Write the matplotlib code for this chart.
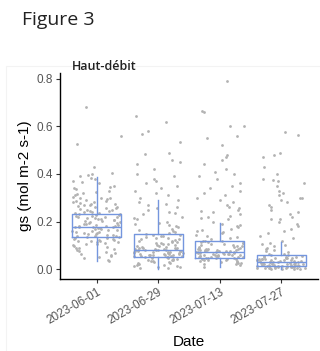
import numpy as np
import matplotlib
matplotlib.use("Agg")
import matplotlib.pyplot as plt
from matplotlib.patches import Rectangle

# ---------------- data ----------------
dates = ["2023-06-01", "2023-06-29", "2023-07-13", "2023-07-27"]

# box statistics
q1 = [0.135, 0.050, 0.045, 0.012]
med = [0.177, 0.080, 0.072, 0.030]
q3 = [0.232, 0.147, 0.118, 0.060]
whislo = [0.034, 0.002, 0.010, 0.000]
whishi = [0.387, 0.290, 0.194, 0.113]

g1 = [0.68, 0.56, 0.525, 0.43, 0.405, 0.40, 0.395, 0.39, 0.385, 0.38,
      0.37, 0.365, 0.36, 0.35, 0.345, 0.34, 0.335, 0.33, 0.325, 0.32, 0.315, 0.31,
      0.305, 0.30, 0.30, 0.298, 0.295, 0.29, 0.288, 0.285, 0.28, 0.28, 0.278, 0.275,
      0.272, 0.27, 0.268, 0.265, 0.262, 0.26, 0.258, 0.255, 0.252, 0.25, 0.248, 0.245,
      0.243, 0.24, 0.238, 0.236, 0.234, 0.232, 0.23, 0.229, 0.227, 0.225, 0.223, 0.221,
      0.219, 0.217, 0.215, 0.213, 0.211, 0.209, 0.207, 0.205, 0.203, 0.201, 0.199,
      0.197, 0.195, 0.193, 0.191, 0.189, 0.187, 0.185, 0.183, 0.181, 0.179, 0.178,
      0.177, 0.176, 0.175, 0.173, 0.171, 0.169, 0.167, 0.165, 0.163, 0.161, 0.159,
      0.157, 0.155, 0.153, 0.151, 0.149, 0.147, 0.145, 0.143, 0.141, 0.139, 0.137,
      0.135, 0.134, 0.132, 0.13, 0.128, 0.126, 0.124, 0.122, 0.12, 0.118, 0.116, 0.114,
      0.112, 0.11, 0.107, 0.104, 0.10, 0.097, 0.094, 0.09, 0.087, 0.083, 0.08, 0.076,
      0.072, 0.068, 0.064, 0.06, 0.055, 0.05, 0.045, 0.04, 0.035]

g2 = [0.645, 0.62, 0.58, 0.57, 0.535, 0.49, 0.485, 0.46, 0.45, 0.44, 0.42, 0.40,
      0.39, 0.38, 0.37, 0.36, 0.35, 0.34, 0.33, 0.32, 0.31, 0.30,
      0.29, 0.28, 0.275, 0.27, 0.26, 0.255, 0.25, 0.24, 0.235, 0.23, 0.22, 0.215,
      0.21, 0.20, 0.195, 0.19, 0.185, 0.18, 0.175, 0.17, 0.165, 0.16, 0.155, 0.15,
      0.147, 0.145, 0.142, 0.14, 0.137, 0.135, 0.132, 0.13, 0.127, 0.125, 0.122, 0.12,
      0.117, 0.115, 0.112, 0.11, 0.108, 0.106, 0.104, 0.102, 0.10, 0.098, 0.096, 0.094,
      0.092, 0.09, 0.089, 0.088, 0.087, 0.086, 0.085, 0.084, 0.083, 0.082, 0.081, 0.08,
      0.079, 0.078, 0.077, 0.076, 0.075, 0.074, 0.073, 0.072, 0.071, 0.07, 0.069, 0.068,
      0.067, 0.066, 0.065, 0.064, 0.063, 0.062, 0.061, 0.06, 0.059, 0.058, 0.057, 0.056,
      0.055, 0.054, 0.053, 0.052, 0.051, 0.05, 0.048, 0.046, 0.044, 0.042, 0.04, 0.038,
      0.036, 0.034, 0.032, 0.03, 0.028, 0.026, 0.024, 0.022, 0.02, 0.018, 0.016, 0.014,
      0.012, 0.01, 0.008, 0.006, 0.004]

g3 = [0.79, 0.665, 0.66, 0.60, 0.60, 0.56, 0.55, 0.52, 0.48, 0.47, 0.46, 0.44, 0.42,
      0.41, 0.40, 0.39, 0.38, 0.36, 0.35, 0.34, 0.33, 0.32, 0.31, 0.30, 0.29, 0.28,
      0.27, 0.26, 0.255, 0.25, 0.245, 0.24, 0.23, 0.225, 0.22, 0.215, 0.21, 0.20,
      0.19, 0.185, 0.18, 0.175, 0.17, 0.165, 0.16, 0.155, 0.15, 0.145, 0.14, 0.135,
      0.13, 0.125, 0.12, 0.118, 0.116, 0.114, 0.112, 0.11, 0.108, 0.106, 0.104, 0.102,
      0.10, 0.098, 0.096, 0.094, 0.092, 0.09, 0.088, 0.086, 0.085, 0.084, 0.083, 0.082,
      0.081, 0.08, 0.079, 0.078, 0.077, 0.076, 0.075, 0.074, 0.073, 0.072, 0.071, 0.07,
      0.069, 0.068, 0.067, 0.066, 0.065, 0.064, 0.063, 0.062, 0.061, 0.06, 0.059, 0.058,
      0.057, 0.056, 0.055, 0.054, 0.053, 0.052, 0.051, 0.05, 0.049, 0.048, 0.047, 0.046,
      0.045, 0.044, 0.043, 0.042, 0.04, 0.038, 0.036, 0.034, 0.032, 0.03, 0.028, 0.026,
      0.024, 0.022, 0.02, 0.015, 0.01]

g4 = [0.575, 0.565, 0.49, 0.48, 0.47, 0.43, 0.40, 0.38, 0.375, 0.37, 0.36, 0.35, 0.33,
      0.32, 0.31, 0.30, 0.30, 0.29, 0.28, 0.27, 0.26, 0.25, 0.24, 0.23, 0.22, 0.21, 0.21,
      0.20, 0.19, 0.18, 0.17, 0.16, 0.15, 0.14, 0.13, 0.12,
      0.11, 0.105, 0.10, 0.095, 0.09, 0.085, 0.08, 0.075, 0.07, 0.065, 0.062, 0.06,
      0.058, 0.056, 0.054, 0.052, 0.05, 0.049, 0.048, 0.047, 0.046, 0.045, 0.044, 0.043,
      0.042, 0.041, 0.04, 0.039, 0.038, 0.037, 0.036, 0.035, 0.034, 0.033, 0.032, 0.031,
      0.03, 0.03, 0.029, 0.028, 0.027, 0.026, 0.025, 0.024, 0.023, 0.022, 0.021, 0.02,
      0.02, 0.019, 0.018, 0.017, 0.016, 0.015, 0.015, 0.014, 0.013, 0.012, 0.012, 0.011,
      0.01, 0.01, 0.009, 0.008, 0.008, 0.007, 0.006, 0.006, 0.005, 0.005, 0.004, 0.004,
      0.003, 0.003, 0.002, 0.002, 0.001, 0.001]

groups = [g1, g2, g3, g4]
y_ticks = [0.0, 0.2, 0.4, 0.6, 0.8]
y_tick_labels = ["0.0", "0.2", "0.4", "0.6", "0.8"]

# ---------------- figure ----------------
W, H = 320, 351
fig = plt.figure(figsize=(W / 100, H / 100), dpi=100)
fig.patch.set_facecolor("white")

ax = fig.add_axes([60 / W, 1 - 279 / H, 258 / W, (279 - 73) / H])

point_color = "#b2b2b2"
box_color = "#7596de"
positions = np.arange(1, len(dates) + 1)


def jitter_frac(n, gi):
    # deterministic hash-based horizontal jitter (positions only)
    k = np.arange(n) + 1000 * (gi + 1)
    return (np.sin(k * 12.9898 + 78.233) * 43758.5453) % 1.0


for gi, (pos, vals) in enumerate(zip(positions, groups)):
    xs = pos + (jitter_frac(len(vals), gi) - 0.5) * 0.8
    ax.scatter(xs, vals, s=4, color=point_color, linewidths=0, zorder=2)

stats = []
for i in range(len(dates)):
    stats.append(dict(med=med[i], q1=q1[i], q3=q3[i],
                      whislo=whislo[i], whishi=whishi[i], fliers=[]))
ax.bxp(stats, positions=positions, widths=0.8, showfliers=False,
       showcaps=False, patch_artist=False,
       boxprops=dict(color=box_color, linewidth=1.0),
       medianprops=dict(color=box_color, linewidth=1.0),
       whiskerprops=dict(color=box_color, linewidth=1.0),
       manage_ticks=False, zorder=3)

ax.set_xlim(0.4, 4.6)
ax.set_ylim(-0.042, 0.825)

for s in ["top", "right"]:
    ax.spines[s].set_visible(False)
for s in ["left", "bottom"]:
    ax.spines[s].set_color("black")
    ax.spines[s].set_linewidth(1.0)

ax.set_yticks(y_ticks)
ax.set_yticklabels(y_tick_labels, fontsize=8.5, color="#555555", family="Liberation Sans")
ax.set_xticks(positions)
ax.set_xticklabels(dates, fontsize=8.5, color="#555555", family="Liberation Sans",
                   rotation=30, ha="right", rotation_mode="anchor")
ax.tick_params(axis="both", length=3, width=0.8, color="#333333", pad=2)

ax.set_ylabel("gs (mol m-2 s-1)", fontsize=11, family="Liberation Sans", labelpad=3)
ax.set_xlabel("Date", fontsize=11, family="Liberation Sans", labelpad=6)

# faint frame around the panel
fig.patches.append(Rectangle((6 / W, -0.01), 1.02, 1 - 66 / H + 0.01,
                             transform=fig.transFigure, fill=False,
                             edgecolor="#f3f3f3", linewidth=0.8))

fig.text(72 / W, 1 - 66 / H, "Haut-débit", fontsize=9, family="Open Sans",
         fontweight="semibold", color="#222222", va="center", ha="left")
fig.text(22 / W, 1 - 20 / H, "Figure 3", fontsize=14, family="Open Sans",
         color="#222222", va="center", ha="left")

fig.savefig("out.png", dpi=100, facecolor="white")
